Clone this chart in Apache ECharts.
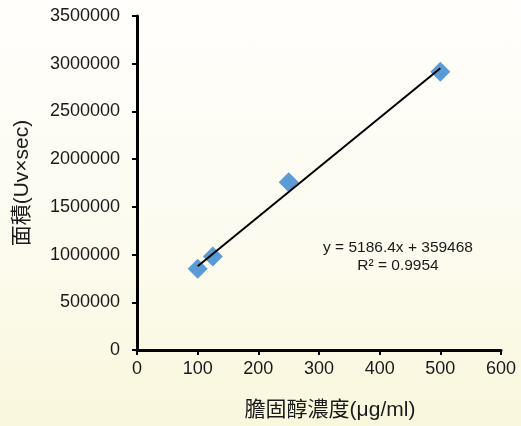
<!DOCTYPE html>
<html>
<head>
<meta charset="utf-8">
<script src="https://cdn.jsdelivr.net/npm/echarts@6/dist/echarts.min.js"></script>
<style>
  html, body { margin: 0; padding: 0; }
  #chart {
    width: 521px; height: 426px;
    background: linear-gradient(to bottom, #fffefc 0%, #fcfbee 60%, #f9f7dc 100%);
  }
</style>
</head>
<body>
<div id="chart"></div>
<script>
// 濃度 (μg/ml) 與 面積
var conc = [100, 125, 250, 500];
var area = [852000, 980000, 1759000, 2916000];
// 趨勢線 y = 5186.4x + 359468
var slope = 5186.4;
var intercept = 359468;
var trendX = [100, 500];
var eqText = 'y = 5186.4x + 359468';
var r2Text = 'R² = 0.9954';

var myChart = echarts.init(document.getElementById('chart'));

var points = conc.map(function(c, i) { return [c, area[i]]; });
var trend = trendX.map(function(x) { return [x, slope * x + intercept]; });

var latin = "'Liberation Sans', Arial, sans-serif";
var cjk = "'Liberation Sans', 'Noto Sans CJK TC', sans-serif";

var option = {
  backgroundColor: 'transparent',
  animation: false,
  grid: { left: 137, right: 20, top: 16, bottom: 74 },
  xAxis: {
    type: 'value',
    min: 0, max: 600, interval: 100,
    name: '膽固醇濃度(μg/ml)',
    nameLocation: 'middle',
    nameGap: 50,
    nameTextStyle: { color: '#1a1a1a', fontSize: 21, fontFamily: cjk, padding: [0, 0, 0, 22] },
    axisLine: { lineStyle: { color: '#000', width: 3 } },
    axisTick: { show: true, length: 5, lineStyle: { color: '#000', width: 2 } },
    axisLabel: { color: '#1a1a1a', fontSize: 18, fontFamily: latin, margin: 10 },
    splitLine: { show: false }
  },
  yAxis: {
    type: 'value',
    min: 0, max: 3500000, interval: 500000,
    name: '面積(Uv×sec)',
    nameLocation: 'middle',
    nameGap: 104,
    nameRotate: 90,
    nameTextStyle: { color: '#1a1a1a', fontSize: 21, fontFamily: cjk },
    axisLine: { show: true, lineStyle: { color: '#000', width: 3 } },
    axisTick: { show: true, length: 5, lineStyle: { color: '#000', width: 2 } },
    axisLabel: {
      color: '#1a1a1a', fontSize: 18, fontFamily: latin, margin: 17,
      formatter: function(v) { return String(v); }
    },
    splitLine: { show: false }
  },
  series: [{
    type: 'line',
    data: trend,
    symbol: 'none',
    lineStyle: { color: '#000', width: 2 },
    z: 3
  }, {
    type: 'scatter',
    data: points,
    symbol: 'diamond',
    symbolSize: [20, 20],
    itemStyle: { color: '#5b9bd5', opacity: 1 },
    z: 2
  }],
  graphic: [{
    type: 'text',
    x: 398, y: 248,
    style: { text: eqText, fill: '#1a1a1a', font: "15.5px 'Liberation Sans', Arial, sans-serif", align: 'center', verticalAlign: 'middle' }
  }, {
    type: 'text',
    x: 398, y: 266,
    style: { text: r2Text, fill: '#1a1a1a', font: "15.5px 'Liberation Sans', Arial, sans-serif", align: 'center', verticalAlign: 'middle' }
  }]
};
myChart.setOption(option);
window.onresize = myChart.resize;
</script>
</body>
</html>
